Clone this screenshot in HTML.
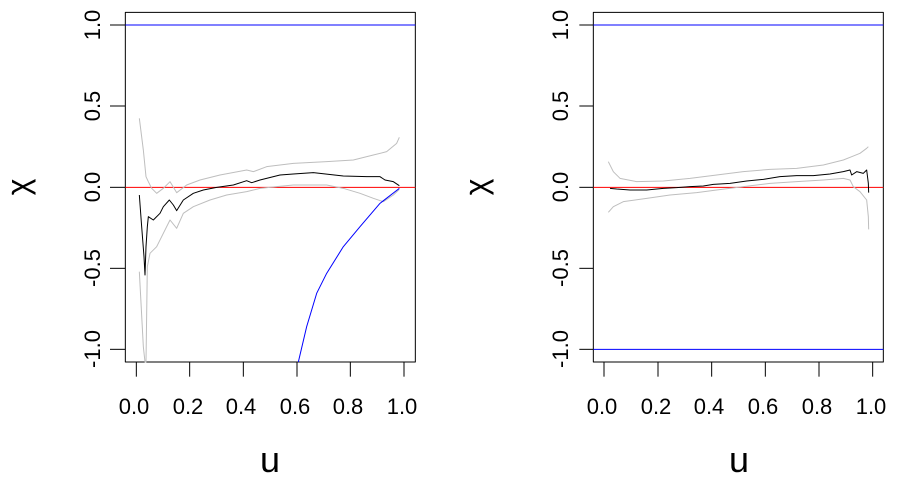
<!DOCTYPE html>
<html><head><meta charset="utf-8"><style>
html,body{margin:0;padding:0;background:#fff}
svg{display:block}
text{font-family:"Liberation Sans",Arial,sans-serif;fill:#000}
.t{font-size:22px}
</style></head><body>
<svg width="897" height="481" viewBox="0 0 897 481">
<!-- LEFT PANEL -->
<g transform="translate(60,0) scale(0.3333333)" fill="none" stroke-linejoin="round">
<rect x="196" y="37" width="870" height="1049" stroke="#000" stroke-width="1" vector-effect="non-scaling-stroke"/>
<line x1="196" y1="75" x2="1066" y2="75" stroke="#0000ff" vector-effect="non-scaling-stroke"/>
<line x1="196" y1="562" x2="1066" y2="562" stroke="#ff0000" vector-effect="non-scaling-stroke"/>
<polyline stroke="#bebebe" vector-effect="non-scaling-stroke" points="238,355 250,450 258,530 265,545 275,565 290,580 310,565 330,545 350,578 380,555 420,540 480,525 560,510 580,515 620,500 700,490 800,485 880,480 940,465 980,455 1010,430 1018,412"/>
<polyline stroke="#bebebe" vector-effect="non-scaling-stroke" points="238,815 250,1040 255,1086 258,1086 262,800 270,760 290,740 310,700 330,660 350,685 370,640 400,620 450,600 500,585 560,575 600,565 650,560 700,555 800,555 850,565 900,580 940,595 970,605 1000,585 1018,568"/>
<polyline stroke="#0000ff" vector-effect="non-scaling-stroke" points="715,1086 740,980 770,880 800,820 850,740 900,680 960,610 1018,565"/>
<polyline stroke="#000" vector-effect="non-scaling-stroke" points="238,585 245,680 252,770 255,825 258,740 262,680 265,650 280,660 300,640 310,620 328,600 340,615 350,632 370,600 400,580 430,570 470,562 520,555 560,542 575,548 600,540 660,525 700,522 760,518 850,528 920,530 960,530 975,540 1000,545 1018,557"/>
<g stroke="#000">
<line x1="150" y1="75" x2="196" y2="75" vector-effect="non-scaling-stroke"/>
<line x1="150" y1="318" x2="196" y2="318" vector-effect="non-scaling-stroke"/>
<line x1="150" y1="562" x2="196" y2="562" vector-effect="non-scaling-stroke"/>
<line x1="150" y1="805" x2="196" y2="805" vector-effect="non-scaling-stroke"/>
<line x1="150" y1="1048" x2="196" y2="1048" vector-effect="non-scaling-stroke"/>
<line x1="229" y1="1086" x2="229" y2="1130" vector-effect="non-scaling-stroke"/>
<line x1="389" y1="1086" x2="389" y2="1130" vector-effect="non-scaling-stroke"/>
<line x1="550" y1="1086" x2="550" y2="1130" vector-effect="non-scaling-stroke"/>
<line x1="711" y1="1086" x2="711" y2="1130" vector-effect="non-scaling-stroke"/>
<line x1="871" y1="1086" x2="871" y2="1130" vector-effect="non-scaling-stroke"/>
<line x1="1032" y1="1086" x2="1032" y2="1130" vector-effect="non-scaling-stroke"/>
</g>
</g>
<g class="t" text-anchor="middle">
<text x="134" y="414">0.0</text><text x="188" y="414">0.2</text><text x="241" y="414">0.4</text>
<text x="295" y="414">0.6</text><text x="348" y="414">0.8</text><text x="402" y="414">1.0</text>
<text transform="translate(100,25) rotate(-90)">1.0</text>
<text transform="translate(100,106) rotate(-90)">0.5</text>
<text transform="translate(100,187) rotate(-90)">0.0</text>
<text transform="translate(100,268) rotate(-90)">-0.5</text>
<text transform="translate(100,349) rotate(-90)">-1.0</text>
<text x="270" y="472" font-size="36">u</text>
<text transform="translate(29,187) rotate(-90)" font-size="32" font-family="DejaVu Serif,serif">χ</text>
</g>
<!-- RIGHT PANEL -->
<g transform="translate(530,0) scale(0.3333333)" fill="none" stroke-linejoin="round">
<rect x="190" y="37" width="870" height="1049" stroke="#000" vector-effect="non-scaling-stroke"/>
<line x1="190" y1="75" x2="1060" y2="75" stroke="#0000ff" vector-effect="non-scaling-stroke"/>
<line x1="190" y1="1048" x2="1060" y2="1048" stroke="#0000ff" vector-effect="non-scaling-stroke"/>
<line x1="190" y1="562" x2="1060" y2="562" stroke="#ff0000" vector-effect="non-scaling-stroke"/>
<polyline stroke="#bebebe" vector-effect="non-scaling-stroke" points="235,485 250,515 270,535 320,545 400,543 480,535 560,525 640,515 720,508 800,505 880,495 940,480 965,470 990,460 1010,445 1015,440"/>
<polyline stroke="#bebebe" vector-effect="non-scaling-stroke" points="235,637 250,620 280,605 350,595 420,585 500,578 560,570 640,560 720,550 800,545 880,540 940,535 960,540 970,560 990,575 1010,600 1015,650 1016,688"/>
<polyline stroke="#000" vector-effect="non-scaling-stroke" points="240,565 260,567 300,570 350,570 400,565 440,563 480,560 520,558 550,553 600,550 650,543 700,538 750,530 800,527 850,527 900,522 940,515 960,510 965,525 980,515 1000,520 1010,510 1015,550 1016,578"/>
<g stroke="#000">
<line x1="148" y1="75" x2="190" y2="75" vector-effect="non-scaling-stroke"/>
<line x1="148" y1="318" x2="190" y2="318" vector-effect="non-scaling-stroke"/>
<line x1="148" y1="562" x2="190" y2="562" vector-effect="non-scaling-stroke"/>
<line x1="148" y1="805" x2="190" y2="805" vector-effect="non-scaling-stroke"/>
<line x1="148" y1="1048" x2="190" y2="1048" vector-effect="non-scaling-stroke"/>
<line x1="222" y1="1086" x2="222" y2="1130" vector-effect="non-scaling-stroke"/>
<line x1="384" y1="1086" x2="384" y2="1130" vector-effect="non-scaling-stroke"/>
<line x1="545" y1="1086" x2="545" y2="1130" vector-effect="non-scaling-stroke"/>
<line x1="706" y1="1086" x2="706" y2="1130" vector-effect="non-scaling-stroke"/>
<line x1="867" y1="1086" x2="867" y2="1130" vector-effect="non-scaling-stroke"/>
<line x1="1028" y1="1086" x2="1028" y2="1130" vector-effect="non-scaling-stroke"/>
</g>
</g>
<g class="t" text-anchor="middle">
<text x="602" y="414">0.0</text><text x="656" y="414">0.2</text><text x="709" y="414">0.4</text>
<text x="763" y="414">0.6</text><text x="817" y="414">0.8</text><text x="871" y="414">1.0</text>
<text transform="translate(568,25) rotate(-90)">1.0</text>
<text transform="translate(568,106) rotate(-90)">0.5</text>
<text transform="translate(568,187) rotate(-90)">0.0</text>
<text transform="translate(568,268) rotate(-90)">-0.5</text>
<text transform="translate(568,349) rotate(-90)">-1.0</text>
<text x="739" y="472" font-size="36">u</text>
<text transform="translate(487,187) rotate(-90)" font-size="32" font-family="DejaVu Serif,serif">χ</text>
</g>
</svg>
</body></html>
